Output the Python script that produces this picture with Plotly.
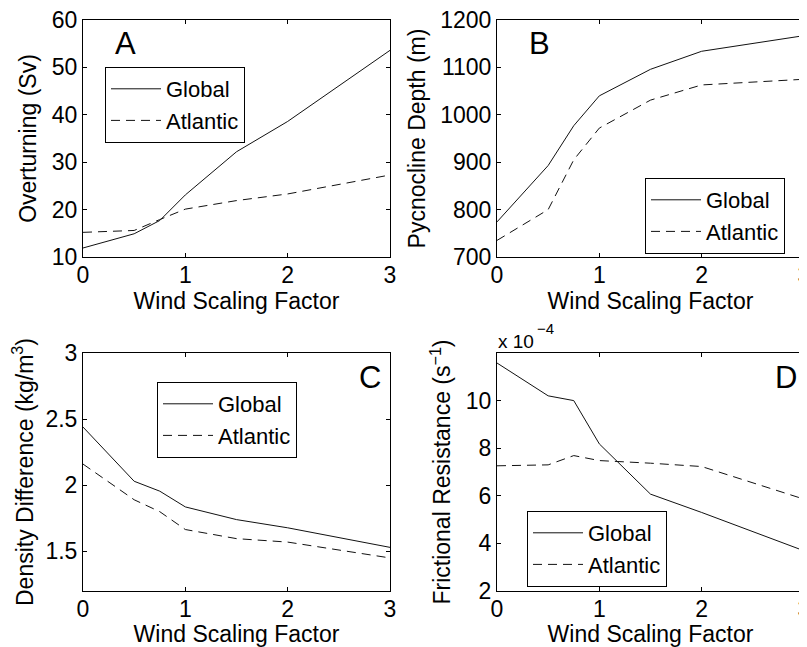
import plotly.graph_objects as go

# ---------------- data ----------------
wind = [0, 0.5, 0.75, 1, 1.5, 2, 3]
overturn_global = [11.9, 14.9, 17.7, 23.1, 32.2, 38.6, 53.6]
overturn_atlantic = [15.2, 15.6, 17.9, 20.1, 21.9, 23.3, 27.3]
pyc_global = [774, 893, 977, 1040, 1096, 1134, 1167]
pyc_atlantic = [735, 800, 905, 972, 1031, 1063, 1075]
dens_global = [2.44, 2.03, 1.955, 1.836, 1.74, 1.678, 1.53]
dens_atlantic = [2.16, 1.89, 1.80, 1.665, 1.596, 1.57, 1.45]
fric_global = [11.58, 10.2, 10.0, 8.18, 6.07, 5.3, 3.69]     # units of 1e-4 s^-1
fric_atlantic = [7.26, 7.3, 7.69, 7.48, 7.37, 7.23, 5.86]    # units of 1e-4 s^-1

series_names = ["Global", "Atlantic"]
panel_letters = ["A", "B", "C", "D"]
x_title = "Wind Scaling Factor"
y_titles = ["Overturning (Sv)", "Pycnocline Depth (m)",
            "Density Difference (kg/m<sup>3</sup>)",
            "Frictional Resistance (s<sup>\u22121</sup>)"]
x_ticks = [0, 1, 2, 3]

# ---------------- layout geometry ----------------
OFF = 8                      # page body margin offset
W, H = 807 - OFF, 647 - OFF
FONT = "Liberation Sans, Arial, Helvetica, sans-serif"
FS = 23

def fx(px):
    return (px - OFF) / W

def fy(py):
    return 1 - (py - OFF) / H

col_x = [(83, 390), (497, 804)]
row_y = [(20, 257), (353, 591)]

panels = [
    (overturn_global, overturn_atlantic, [10, 60], 10, None),
    (pyc_global, pyc_atlantic, [700, 1200], 100, None),
    (dens_global, dens_atlantic, [1.2, 3], 0.5, [1.5, 2, 2.5, 3]),
    (fric_global, fric_atlantic, [2, 12], 2, [2, 4, 6, 8, 10]),
]

legend_pos = [(105, 67), (645, 178), (157, 382), (527, 511)]
letter_pos = [(0.137, 0.90), (0.137, 0.90), (0.935, 0.895), (0.941, 0.895)]

fig = go.Figure()
layout = dict(
    width=W, height=H,
    margin=dict(l=0, r=0, t=0, b=0),
    paper_bgcolor="white", plot_bgcolor="white",
    font=dict(family=FONT, size=FS, color="black"),
    showlegend=True,
)

annotations = []
for i, (g, a, yr, dt, tv) in enumerate(panels):
    r, c = divmod(i, 2)
    xa = "xaxis" + ("" if i == 0 else str(i + 1))
    ya = "yaxis" + ("" if i == 0 else str(i + 1))
    xref = "x" + ("" if i == 0 else str(i + 1))
    yref = "y" + ("" if i == 0 else str(i + 1))
    leg = "legend" + ("" if i == 0 else str(i + 1))

    fig.add_trace(go.Scatter(x=wind, y=g, mode="lines", name=series_names[0],
                             line=dict(color="#111111", width=1),
                             xaxis=xref, yaxis=yref, legend=leg))
    fig.add_trace(go.Scatter(x=wind, y=a, mode="lines", name=series_names[1],
                             line=dict(color="#111111", width=1, dash="9px,6px"),
                             xaxis=xref, yaxis=yref, legend=leg))

    axis_common = dict(showline=True, linecolor="black", linewidth=1, mirror="ticks",
                       ticks="inside", ticklen=4, tickcolor="black", showgrid=False,
                       zeroline=False, automargin=False, ticklabeloverflow="allow",
                       tickfont=dict(family=FONT, size=FS, color="black"))
    layout[xa] = dict(axis_common, domain=[fx(col_x[c][0]), fx(col_x[c][1])],
                      range=[0, 3], tickvals=x_ticks, anchor=yref,
                      ticklabelstandoff=-3,
                      title=dict(text=x_title, standoff=3,
                                 font=dict(family=FONT, size=FS)))
    ydict = dict(axis_common, domain=[fy(row_y[r][1]), fy(row_y[r][0])],
                 range=yr, anchor=xref,
                 title=dict(text=y_titles[i], standoff=8,
                            font=dict(family=FONT, size=FS)))
    if tv is not None:
        ydict["tickvals"] = tv
    else:
        ydict["dtick"] = dt
        ydict["tick0"] = yr[0]
    layout[ya] = ydict

    lx, ly = legend_pos[i]
    layout[leg] = dict(x=fx(lx), y=fy(ly), xanchor="left", yanchor="top",
                       bgcolor="white", bordercolor="black", borderwidth=1,
                       font=dict(family=FONT, size=22, color="black"),
                       itemwidth=50, tracegroupgap=0)

    annotations.append(dict(text=panel_letters[i], xref=xref + " domain", yref=yref + " domain",
                            x=letter_pos[i][0], y=letter_pos[i][1], showarrow=False,
                            xanchor="center", yanchor="middle",
                            font=dict(family=FONT, size=31, color="black")))

# axis multiplier for panel D: "x 10^-4"
annotations.append(dict(text="x 10", xref="paper", yref="paper",
                        x=fx(496), y=fy(341), xanchor="left", yanchor="middle",
                        showarrow=False, font=dict(family=FONT, size=19, color="black")))
annotations.append(dict(text="\u22124", xref="paper", yref="paper",
                        x=fx(535), y=fy(328), xanchor="left", yanchor="middle",
                        showarrow=False, font=dict(family=FONT, size=15, color="black")))

layout["annotations"] = annotations
fig.update_layout(**layout)
fig.write_html("out.html")
